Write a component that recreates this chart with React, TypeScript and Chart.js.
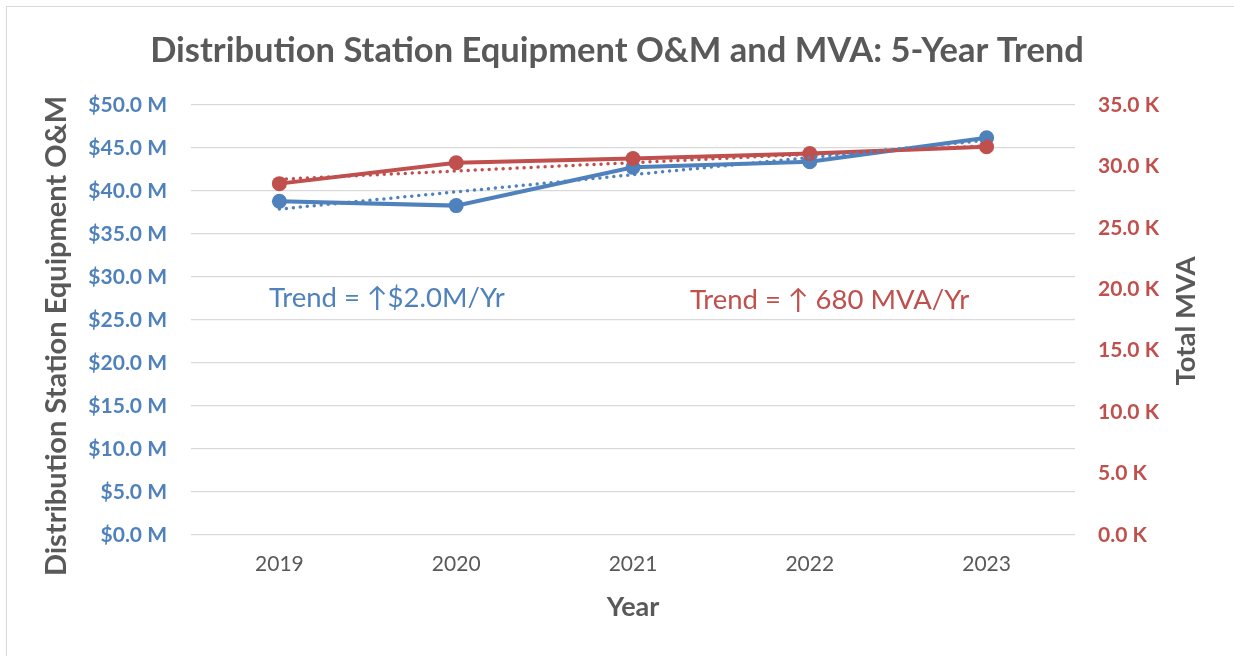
import React, { useEffect, useRef } from "react";
import { Chart, registerables } from "chart.js";

Chart.register(...registerables);

// ---- data ----
const years = ["2019", "2020", "2021", "2022", "2023"];
const omMillions = [38.8, 38.3, 42.75, 43.4, 46.2]; // $M
const totalMva = [28600, 30300, 30650, 31050, 31600]; // MVA
const omTrend = [37.9, 39.9, 41.9, 43.9, 45.9]; // linear trend, $M
const mvaTrend = [28950, 29630, 30310, 30990, 31670]; // linear trend, MVA

const titleText = "Distribution Station Equipment O&M and MVA: 5-Year Trend";
const leftAxisTitle = "Distribution Station Equipment O&M";
const rightAxisTitle = "Total MVA";
const xAxisTitle = "Year";
const omTrendLabel = "Trend = \u2191$2.0M/Yr";
const mvaTrendLabel = "Trend = \u2191 680 MVA/Yr";

const BLUE = "#4F81BD";
const RED = "#C0504D";
const GRAY = "#595959";
const GRID = "#D9D9D9";
const FONT = "Lato, 'Open Sans', sans-serif";

const W = 1234;
const H = 656;

const overlayPlugin = {
  id: "overlay",
  beforeDraw(chart: any) {
    const { ctx } = chart;
    ctx.save();
    ctx.fillStyle = "#ffffff";
    ctx.fillRect(0, 0, W, H);
    ctx.strokeStyle = GRID;
    ctx.lineWidth = 1;
    ctx.strokeRect(6.5, 6.5, W + 20, H + 20);
    ctx.restore();
  },
  afterDraw(chart: any) {
    const { ctx, chartArea } = chart;
    ctx.save();
    // axis titles (both read bottom-to-top)
    ctx.fillStyle = GRAY;
    ctx.textAlign = "center";
    ctx.textBaseline = "middle";
    ctx.font = `bold 29px ${FONT}`;
    ctx.translate(57, 336);
    ctx.rotate(-Math.PI / 2);
    ctx.fillText(leftAxisTitle, 0, 0);
    ctx.setTransform(1, 0, 0, 1, 0, 0);
    ctx.font = `bold 27.5px ${FONT}`;
    ctx.translate(1186, 321);
    ctx.rotate(-Math.PI / 2);
    ctx.fillText(rightAxisTitle, 0, 0);
    ctx.setTransform(1, 0, 0, 1, 0, 0);
    // trend annotations
    ctx.textAlign = "left";
    ctx.font = `27.5px ${FONT}`;
    const y = chartArea.top + 193;
    ctx.fillStyle = BLUE;
    ctx.fillText(omTrendLabel, chartArea.left + 78, y);
    ctx.fillStyle = RED;
    ctx.fillText(mvaTrendLabel, chartArea.left + 499, y + 2);
    ctx.restore();
  },
};

export default function App() {
  const ref = useRef<HTMLCanvasElement | null>(null);

  useEffect(() => {
    if (!ref.current) return;
    const chart = new Chart(ref.current, {
      type: "line",
      data: {
        labels: years,
        datasets: [
          {
            label: "MVA trend",
            data: mvaTrend,
            yAxisID: "y1",
            borderColor: RED,
            borderWidth: 3.5,
            borderDash: [0, 7],
            borderCapStyle: "round",
            pointRadius: 0,
            fill: false,
            order: 0,
          },
          {
            label: "O&M trend",
            data: omTrend,
            yAxisID: "y",
            borderColor: BLUE,
            borderWidth: 3.5,
            borderDash: [0, 7],
            borderCapStyle: "round",
            pointRadius: 0,
            fill: false,
            order: 1,
          },
          {
            label: "Total MVA",
            data: totalMva,
            yAxisID: "y1",
            borderColor: RED,
            backgroundColor: RED,
            borderWidth: 4,
            pointRadius: 7.5,
            pointBorderWidth: 0,
            pointBackgroundColor: RED,
            fill: false,
            order: 2,
          },
          {
            label: "O&M",
            data: omMillions,
            yAxisID: "y",
            borderColor: BLUE,
            backgroundColor: BLUE,
            borderWidth: 4,
            pointRadius: 7.5,
            pointBorderWidth: 0,
            pointBackgroundColor: BLUE,
            fill: false,
            order: 3,
          },
        ],
      },
      options: {
        responsive: false,
        animation: false,
        layout: { padding: 0 },
        plugins: {
          legend: { display: false },
          tooltip: { enabled: false },
          title: {
            display: true,
            text: titleText,
            color: GRAY,
            font: { family: FONT, size: 34.5, weight: "bold" },
            padding: { top: 30, bottom: 33.6 },
          },
        },
        scales: {
          x: {
            offset: true,
            grid: { display: false, drawTicks: false },
            border: { display: false },
            ticks: {
              color: GRAY,
              font: { family: FONT, size: 21 },
              padding: 17,
            },
            title: {
              display: true,
              text: xAxisTitle,
              color: GRAY,
              font: { family: FONT, size: 27, weight: "bold" },
              padding: { top: 0, bottom: 33 },
            },
            afterFit(scale: any) {
              scale.height = 121;
            },
          },
          y: {
            position: "left",
            min: 0,
            max: 50,
            grid: { color: GRID, lineWidth: 1.3, drawTicks: false },
            border: { display: false },
            ticks: {
              stepSize: 5,
              color: BLUE,
              font: { family: FONT, size: 21, weight: "bold" },
              padding: 24,
              callback: (v: any) => `$${Number(v).toFixed(1)} M`,
            },
            afterFit(scale: any) {
              scale.width = 191;
            },
          },
          y1: {
            position: "right",
            min: 0,
            max: 35000,
            grid: { drawOnChartArea: false, drawTicks: false },
            border: { display: false },
            ticks: {
              stepSize: 5000,
              color: RED,
              font: { family: FONT, size: 21, weight: "bold" },
              padding: 23,
              callback: (v: any) => `${(Number(v) / 1000).toFixed(1)} K`,
            },
            afterFit(scale: any) {
              scale.width = W - 1075;
            },
          },
        },
      },
      plugins: [overlayPlugin],
    } as any);
    return () => chart.destroy();
  }, []);

  return (
    <div
      style={{
        position: "fixed",
        left: 0,
        top: 0,
        width: W,
        height: H,
        overflow: "hidden",
        background: "#fff",
      }}
    >
      <canvas ref={ref} width={W} height={H} style={{ width: W, height: H, display: "block" }} />
    </div>
  );
}
